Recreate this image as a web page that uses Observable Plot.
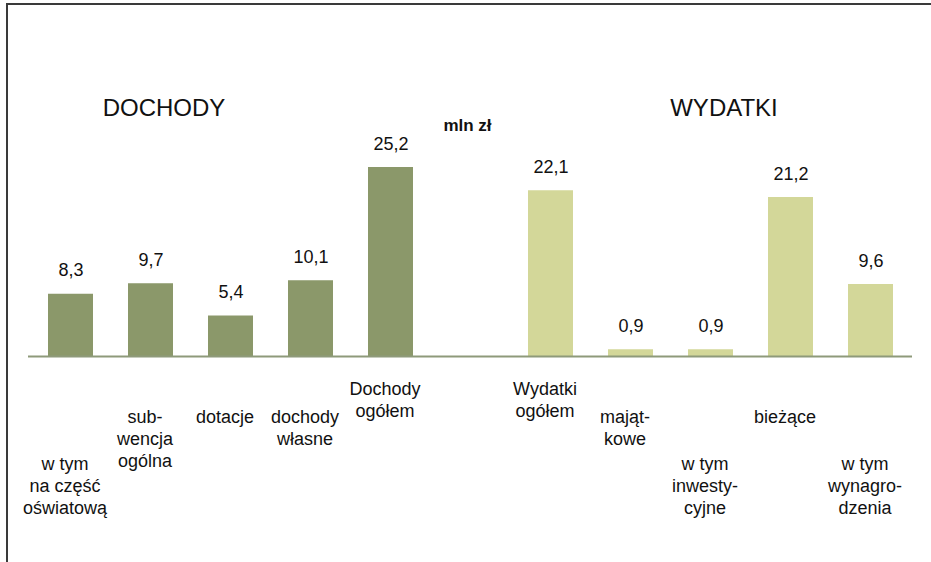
<!DOCTYPE html>
<html>
<head>
<meta charset="utf-8">
<script src="https://cdn.jsdelivr.net/npm/d3@7"></script>
<script src="https://cdn.jsdelivr.net/npm/@observablehq/plot@0.6"></script>
<style>
  html, body { margin: 0; padding: 0; background: #fff; }
  #wrap { position: relative; width: 931px; height: 562px; overflow: hidden; }
  #wrap svg { position: absolute; left: 0; top: 0; }
  #border { position: absolute; left: 6px; top: 3px; width: 925px; height: 560px;
            border-top: 2px solid #3a3a3a; border-left: 2px solid #3a3a3a; pointer-events: none; }
</style>
</head>
<body>
<div id="wrap"><div id="border"></div></div>
<script>
// ---- data ----
const categories = [
  "w tym\nna część\noświatową",
  "sub-\nwencja\nogólna",
  "dotacje",
  "dochody\nwłasne",
  "Dochody\nogółem",
  "Wydatki\nogółem",
  "mająt-\nkowe",
  "w tym\ninwesty-\ncyjne",
  "bieżące",
  "w tym\nwynagro-\ndzenia"
];
const values = [8.3, 9.7, 5.4, 10.1, 25.2, 22.1, 0.9, 0.9, 21.2, 9.6];
const groups = ["DOCHODY", "DOCHODY", "DOCHODY", "DOCHODY", "DOCHODY",
                "WYDATKI", "WYDATKI", "WYDATKI", "WYDATKI", "WYDATKI"];
const groupTitles = ["DOCHODY", "WYDATKI"];
const unitLabel = "mln zł";

// ---- layout / style (not data) ----
const spacer = " ";
const domain = [...categories.slice(0, 5), spacer, ...categories.slice(5)];
const groupColor = {DOCHODY: "#8b986a", WYDATKI: "#d3d799"};
const labelRow = [2, 1, 1, 1, 0, 0, 1, 2, 1, 2];
const rowDy = [22.5, 51, 98];
const font = "Liberation Sans, Arial, sans-serif";

const data = categories.map((c, i) => ({cat: c, value: values[i], group: groups[i], row: labelRow[i]}));
const fmt = v => d3.format(".1f")(v).replace(".", ",");

const labelMarks = rowDy.map((dy, r) =>
  Plot.text(data.filter(d => d.row === r), {
    x: "cat", text: "cat", frameAnchor: "bottom", lineAnchor: "top",
    dy, dx: -6, fontSize: 18, lineHeight: 22 / 18, fill: "#111"
  })
);

const chart = Plot.plot({
  width: 931,
  height: 562,
  marginLeft: 28,
  marginRight: 19,
  marginTop: 56,
  marginBottom: 206,
  style: {fontFamily: font, background: "transparent", overflow: "visible"},
  x: {type: "band", domain, paddingInner: 0.44, paddingOuter: 0.22, axis: null},
  y: {domain: [0, 40], axis: null},
  marks: [
    Plot.barY(data, {x: "cat", y: "value", fill: d => groupColor[d.group]}),
    Plot.ruleY([0], {stroke: "#8e9a7a", strokeWidth: 2}),
    Plot.text(data, {
      x: "cat", y: "value", text: d => fmt(d.value), lineAnchor: "bottom",
      dy: -18, fontSize: 18, fill: "#111"
    }),
    ...labelMarks,
    Plot.text([groupTitles[0]], {
      x: () => categories[1], text: d => d, frameAnchor: "top", lineAnchor: "bottom",
      dx: 13, dy: 59, fontSize: 24, fill: "#111", letterSpacing: "1px"
    }),
    Plot.text([groupTitles[1]], {
      x: () => categories[7], text: d => d, frameAnchor: "top", lineAnchor: "bottom",
      dx: 13, dy: 59, fontSize: 24, fill: "#111", letterSpacing: "1.5px"
    }),
    Plot.text([unitLabel], {
      x: () => spacer, text: d => d, frameAnchor: "top", lineAnchor: "bottom",
      dx: -3.5, dy: 74.5, fontSize: 17, fontWeight: "bold", fill: "#111"
    })
  ]
});
document.getElementById("wrap").prepend(chart);
</script>
</body>
</html>
